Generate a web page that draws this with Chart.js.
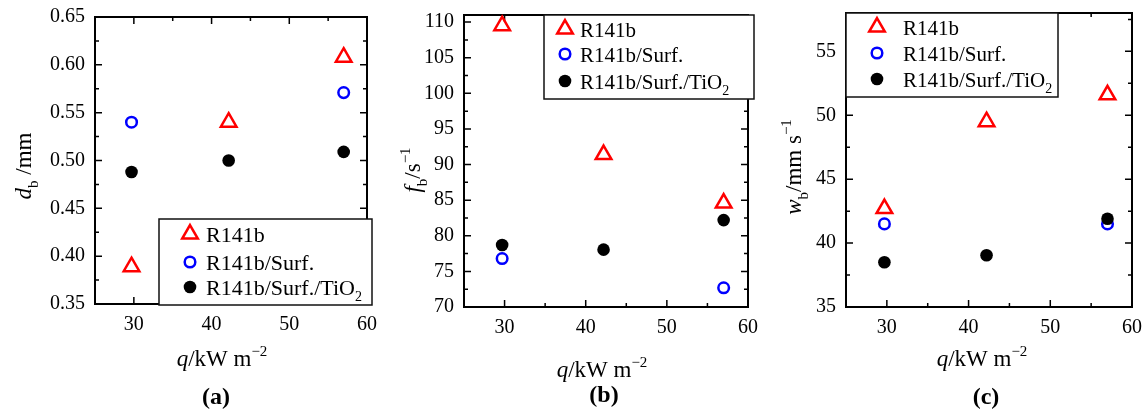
<!DOCTYPE html>
<html>
<head>
<meta charset="utf-8">
<script src="https://cdn.jsdelivr.net/npm/chart.js@4/dist/chart.umd.min.js"></script>
<style>
  html, body { margin: 0; padding: 0; background: #fff; }
  #wrap { position: relative; width: 1145px; height: 414px; overflow: hidden; }
  .panel { position: absolute; top: 0; }
</style>
</head>
<body>
<div id="wrap">
  <canvas id="ca" class="panel" style="left:0px"></canvas>
  <canvas id="cb" class="panel" style="left:385px"></canvas>
  <canvas id="cc" class="panel" style="left:765px"></canvas>
</div>
<script>
// bubble parameters vs heat flux, three fluids

const qVals = [29.7, 42.2, 57.0];
const seriesNames = ['R141b', 'R141b/Surf.', 'R141b/Surf./TiO2'];

// (a) bubble departure diameter, mm
const dbR141b = [0.389, 0.540, 0.608];
const dbSurf  = [0.540, null, 0.571];
const dbTiO2  = [0.488, 0.500, 0.509];

// (b) bubble departure frequency, 1/s
const fbR141b = [109.5, 91.4, 84.6];
const fbSurf  = [76.8, null, 72.7];
const fbTiO2  = [78.7, 78.05, 82.2];

// (c) bubble growth rate, mm/s
const wbR141b = [42.7, 49.5, 51.6];
const wbSurf  = [41.5, null, 41.5];
const wbTiO2  = [38.5, 39.05, 41.9];

const qTicks  = [30, 40, 50, 60];
const dbTicks = [0.35, 0.40, 0.45, 0.50, 0.55, 0.60, 0.65];
const fbTicks = [70, 75, 80, 85, 90, 95, 100, 105, 110];
const wbTicks = [35, 40, 45, 50, 55];

const FONT = '"Liberation Serif", "Times New Roman", serif';
Chart.defaults.font.family = FONT;
Chart.defaults.font.size = 20;
Chart.defaults.color = '#000';

const H = 414;

const STYLES = [
  { pointStyle: 'triangle', radius: 9, borderWidth: 2.5, borderColor: '#ff0000', backgroundColor: 'rgba(0,0,0,0)', order: 1 },
  { pointStyle: 'circle', radius: 5.3, borderWidth: 2.5, borderColor: '#0000ff', backgroundColor: 'rgba(0,0,0,0)', order: 2 },
  { pointStyle: 'circle', radius: 6.3, borderWidth: 0, borderColor: '#000', backgroundColor: '#000', order: 0 }
];

const LEGEND_PARTS = [
  [{ t: 'R141b' }],
  [{ t: 'R141b/Surf.' }],
  [{ t: 'R141b/Surf./TiO' }, { t: '2', sub: true }]
];

const X_TITLE = [{ t: 'q', it: true }, { t: '/kW m' }, { t: '\u22122', sup: true }];

const panels = [
  {
    id: 'ca', width: 382, area: { l: 95, r: 367, t: 17, b: 304 },
    yMin: 0.35, yMax: 0.65, yTicks: dbTicks, digits: 2,
    series: [dbR141b, dbSurf, dbTiO2],
    yTitle: [{ t: 'd', it: true }, { t: 'b', sub: true }, { t: ' /mm' }],
    yTitleAt: { x: 31, y: 166 }, xTitleAt: { x: 222, y: 366 },
    tag: '(a)', tagAt: { x: 216, y: 404 },
    legend: { l: 159, r: 372, t: 219, b: 305, mx: 190, tx: 206, size: 22, rows: [234, 262, 287] }
  },
  {
    id: 'cb', width: 380, area: { l: 79, r: 363, t: 15, b: 307 },
    yMin: 70, yMax: 111, yTicks: fbTicks, digits: 0,
    series: [fbR141b, fbSurf, fbTiO2],
    yTitle: [{ t: 'f', it: true }, { t: 'b', sub: true }, { t: '/s' }, { t: '\u22121', sup: true }],
    yTitleAt: { x: 35, y: 170 }, xTitleAt: { x: 217, y: 377 },
    tag: '(b)', tagAt: { x: 219, y: 402 },
    legend: { l: 159, r: 369, t: 15, b: 99, mx: 180, tx: 195, size: 21, rows: [29, 54, 81] }
  },
  {
    id: 'cc', width: 380, area: { l: 81, r: 367, t: 13, b: 307 },
    yMin: 35, yMax: 58, yTicks: wbTicks, digits: 0,
    series: [wbR141b, wbSurf, wbTiO2],
    yTitle: [{ t: 'w', it: true }, { t: 'b', sub: true }, { t: '/mm s' }, { t: '\u22121', sup: true }],
    yTitleAt: { x: 36, y: 167 }, xTitleAt: { x: 217, y: 366 },
    tag: '(c)', tagAt: { x: 221, y: 404 },
    legend: { l: 81, r: 293, t: 13, b: 97, mx: 112, tx: 138, size: 21, rows: [27, 53, 79] }
  }
];

// text with italic / sub / superscript pieces
function partFont(p, size) {
  const s = (p.sub || p.sup) ? Math.round(size * 0.65) : size;
  return (p.it ? 'italic ' : '') + (p.b ? 'bold ' : '') + s + 'px ' + FONT;
}

function richWidth(ctx, parts, size) {
  let w = 0;
  parts.forEach(p => { ctx.font = partFont(p, size); w += ctx.measureText(p.t).width; });
  return w;
}

function drawRich(ctx, parts, x, y, size, align, rotate) {
  ctx.save();
  ctx.translate(x, y);
  if (rotate) ctx.rotate(-Math.PI / 2);
  ctx.textBaseline = 'alphabetic';
  ctx.textAlign = 'left';
  ctx.fillStyle = '#000';
  let cx = align === 'center' ? -richWidth(ctx, parts, size) / 2 : 0;
  parts.forEach(p => {
    ctx.font = partFont(p, size);
    const dy = p.sub ? size * 0.3 : (p.sup ? -size * 0.42 : 0);
    ctx.fillText(p.t, cx, dy);
    cx += ctx.measureText(p.t).width;
  });
  ctx.restore();
}

function minorOf(ticks, min, max) {
  const step = ticks[1] - ticks[0];
  const out = [];
  ticks.forEach(v => out.push(v - step / 2));
  out.push(ticks[ticks.length - 1] + step / 2);
  return out.filter(v => v > min + 1e-9 && v < max - 1e-9);
}

const framePlugin = {
  id: 'frame',
  beforeDatasetsDraw(chart, args, opts) {
    const { ctx, chartArea: a, scales: { x, y } } = chart;
    const P = opts.panel;
    ctx.save();
    ctx.strokeStyle = '#000';
    ctx.lineWidth = 1.5;
    ctx.beginPath();
    const tickX = (v, len) => {
      const px = x.getPixelForValue(v);
      ctx.moveTo(px, a.bottom); ctx.lineTo(px, a.bottom - len);
      ctx.moveTo(px, a.top); ctx.lineTo(px, a.top + len);
    };
    const tickY = (v, len) => {
      const py = y.getPixelForValue(v);
      ctx.moveTo(a.left, py); ctx.lineTo(a.left + len, py);
      ctx.moveTo(a.right, py); ctx.lineTo(a.right - len, py);
    };
    qTicks.forEach(v => tickX(v, 7));
    minorOf(qTicks, 25, 60).forEach(v => tickX(v, 4));
    P.yTicks.forEach(v => tickY(v, 7));
    minorOf(P.yTicks, P.yMin, P.yMax).forEach(v => tickY(v, 4));
    ctx.stroke();
    ctx.lineWidth = 2;
    ctx.strokeRect(a.left, a.top, a.right - a.left, a.bottom - a.top);
    ctx.restore();
  },
  afterDraw(chart, args, opts) {
    const { ctx } = chart;
    const P = opts.panel;
    const L = P.legend;

    // legend box
    ctx.save();
    ctx.fillStyle = '#fff';
    ctx.fillRect(L.l, L.t, L.r - L.l, L.b - L.t);
    ctx.strokeStyle = '#111';
    ctx.lineWidth = 1.5;
    ctx.strokeRect(L.l, L.t, L.r - L.l, L.b - L.t);
    chart.data.datasets.forEach((ds, i) => {
      const st = STYLES[i];
      ctx.save();
      ctx.fillStyle = st.backgroundColor;
      ctx.strokeStyle = st.borderColor;
      ctx.lineWidth = st.borderWidth;
      Chart.helpers.drawPoint(ctx, {
        pointStyle: st.pointStyle, radius: st.radius, rotation: 0, borderWidth: st.borderWidth
      }, L.mx, L.rows[i]);
      ctx.restore();
      drawRich(ctx, LEGEND_PARTS[i], L.tx, L.rows[i] + 7.5, L.size, 'left', false);
    });
    ctx.restore();

    // axis titles and panel tag
    drawRich(ctx, X_TITLE, P.xTitleAt.x, P.xTitleAt.y, 23, 'center', false);
    drawRich(ctx, P.yTitle, P.yTitleAt.x, P.yTitleAt.y, 23, 'center', true);
    drawRich(ctx, [{ t: P.tag, b: true }], P.tagAt.x, P.tagAt.y, 24, 'center', false);
  }
};

function makePanel(P) {
  const canvas = document.getElementById(P.id);
  canvas.width = P.width;
  canvas.height = H;
  canvas.style.width = P.width + 'px';
  canvas.style.height = H + 'px';

  const datasets = P.series.map((vals, i) => {
    const st = STYLES[i];
    return {
      label: seriesNames[i],
      data: qVals.map((q, k) => ({ x: q, y: vals[k] })).filter(p => p.y !== null),
      pointStyle: st.pointStyle,
      pointRadius: st.radius,
      pointBorderWidth: st.borderWidth,
      pointBorderColor: st.borderColor,
      pointBackgroundColor: st.backgroundColor,
      showLine: false,
      order: st.order,
      clip: false
    };
  });

  return new Chart(canvas.getContext('2d'), {
    type: 'scatter',
    data: { datasets },
    options: {
      responsive: false,
      animation: false,
      events: [],
      layout: { padding: { top: P.area.t, right: P.width - P.area.r, left: 0, bottom: 0 } },
      plugins: {
        legend: { display: false },
        tooltip: { enabled: false },
        frame: { panel: P }
      },
      scales: {
        x: {
          type: 'linear',
          min: 25, max: 60,
          grid: { display: false, drawTicks: false },
          border: { display: false },
          afterBuildTicks: s => { s.ticks = qTicks.map(v => ({ value: v })); },
          afterFit: s => { s.height = H - P.area.b; s.paddingLeft = 0; s.paddingRight = 0; },
          ticks: { padding: 9, maxRotation: 0, autoSkip: false, color: '#000', font: { size: 20 } }
        },
        y: {
          type: 'linear',
          min: P.yMin, max: P.yMax,
          grid: { display: false, drawTicks: false },
          border: { display: false },
          afterBuildTicks: s => { s.ticks = P.yTicks.map(v => ({ value: v })); },
          afterFit: s => { s.width = P.area.l; s.paddingTop = 0; s.paddingBottom = 0; },
          ticks: {
            padding: 10, autoSkip: false, color: '#000', font: { size: 20 },
            callback: v => Number(v).toFixed(P.digits)
          }
        }
      }
    },
    plugins: [framePlugin]
  });
}

panels.forEach(makePanel);
</script>
</body>
</html>
